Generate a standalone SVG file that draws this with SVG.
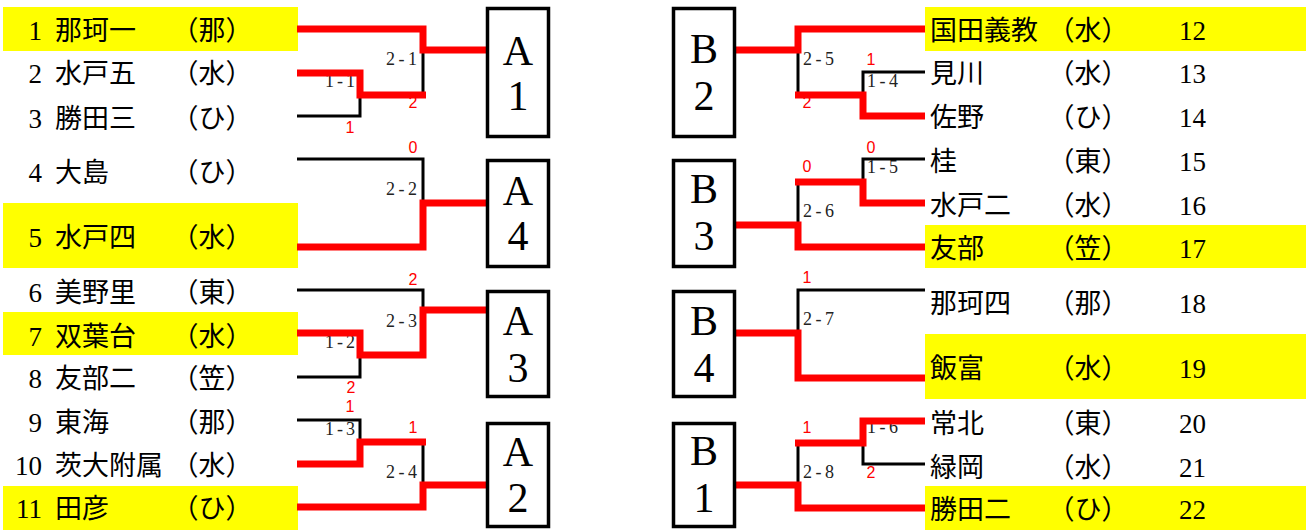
<svg xmlns="http://www.w3.org/2000/svg" width="1306" height="530" viewBox="0 0 1306 530">
<style>
.bg{fill:#ffffff}
.y{fill:#ffff00}
.t{font-family:"Liberation Serif","Noto Sans CJK JP",serif;font-size:27px;fill:#000}
.p{font-family:"Noto Sans CJK JP",sans-serif;font-size:27px;fill:#000;text-anchor:middle}
.n{text-anchor:end}
.bx{fill:#fff;stroke:#000;stroke-width:3.5}
.bl{font-family:"Liberation Serif",serif;font-size:42px;text-anchor:middle;fill:#000}
.k{fill:none;stroke:#000;stroke-width:3}
.r{fill:none;stroke:#ff0000;stroke-width:7;stroke-linejoin:miter}
.lb{font-family:"Liberation Serif",serif;font-size:18px;fill:#222}
.sc{font-family:"Liberation Sans",sans-serif;font-size:16px;fill:#ff0000;text-anchor:middle}
</style>
<rect class="bg" x="0" y="0" width="1306" height="530"/>

<g id="team-1"><rect class="y" x="3" y="7" width="295" height="44"/><text class="t n" x="42" y="40">1</text><text class="t" x="55" y="40">那珂一</text><text class="p" x="212" y="40">（那）</text></g>
<g id="team-2"><text class="t n" x="42" y="83">2</text><text class="t" x="55" y="83">水戸五</text><text class="p" x="212" y="83">（水）</text></g>
<g id="team-3"><text class="t n" x="42" y="128">3</text><text class="t" x="55" y="128">勝田三</text><text class="p" x="212" y="128">（ひ）</text></g>
<g id="team-4"><text class="t n" x="42" y="182">4</text><text class="t" x="55" y="182">大島</text><text class="p" x="212" y="182">（ひ）</text></g>
<g id="team-5"><rect class="y" x="3" y="203" width="295" height="65"/><text class="t n" x="42" y="247">5</text><text class="t" x="55" y="247">水戸四</text><text class="p" x="212" y="247">（水）</text></g>
<g id="team-6"><text class="t n" x="42" y="302">6</text><text class="t" x="55" y="302">美野里</text><text class="p" x="212" y="302">（東）</text></g>
<g id="team-7"><rect class="y" x="3" y="312" width="295" height="43"/><text class="t n" x="42" y="346">7</text><text class="t" x="55" y="346">双葉台</text><text class="p" x="212" y="346">（水）</text></g>
<g id="team-8"><text class="t n" x="42" y="388">8</text><text class="t" x="55" y="388">友部二</text><text class="p" x="212" y="388">（笠）</text></g>
<g id="team-9"><text class="t n" x="42" y="432">9</text><text class="t" x="55" y="432">東海</text><text class="p" x="212" y="432">（那）</text></g>
<g id="team-10"><text class="t n" x="42" y="475">10</text><text class="t" x="55" y="475">茨大附属</text><text class="p" x="212" y="475">（水）</text></g>
<g id="team-11"><rect class="y" x="3" y="486" width="295" height="44"/><text class="t n" x="42" y="518">11</text><text class="t" x="55" y="518">田彦</text><text class="p" x="212" y="518">（ひ）</text></g>

<g id="team-12"><rect class="y" x="925" y="7" width="381" height="44"/><text class="t" x="930" y="40">国田義教</text><text class="p" x="1088" y="40">（水）</text><text class="t" x="1179" y="40">12</text></g>
<g id="team-13"><text class="t" x="930" y="83">見川</text><text class="p" x="1088" y="83">（水）</text><text class="t" x="1179" y="83">13</text></g>
<g id="team-14"><text class="t" x="930" y="127">佐野</text><text class="p" x="1088" y="127">（ひ）</text><text class="t" x="1179" y="127">14</text></g>
<g id="team-15"><text class="t" x="930" y="171">桂</text><text class="p" x="1088" y="171">（東）</text><text class="t" x="1179" y="171">15</text></g>
<g id="team-16"><text class="t" x="930" y="215">水戸二</text><text class="p" x="1088" y="215">（水）</text><text class="t" x="1179" y="215">16</text></g>
<g id="team-17"><rect class="y" x="925" y="225" width="381" height="43"/><text class="t" x="930" y="258">友部</text><text class="p" x="1088" y="258">（笠）</text><text class="t" x="1179" y="258">17</text></g>
<g id="team-18"><text class="t" x="930" y="313">那珂四</text><text class="p" x="1088" y="313">（那）</text><text class="t" x="1179" y="313">18</text></g>
<g id="team-19"><rect class="y" x="925" y="334" width="381" height="65"/><text class="t" x="930" y="378">飯富</text><text class="p" x="1088" y="378">（水）</text><text class="t" x="1179" y="378">19</text></g>
<g id="team-20"><text class="t" x="930" y="433">常北</text><text class="p" x="1088" y="433">（東）</text><text class="t" x="1179" y="433">20</text></g>
<g id="team-21"><text class="t" x="930" y="477">緑岡</text><text class="p" x="1088" y="477">（水）</text><text class="t" x="1179" y="477">21</text></g>
<g id="team-22"><rect class="y" x="925" y="486" width="381" height="44"/><text class="t" x="930" y="519">勝田二</text><text class="p" x="1088" y="519">（ひ）</text><text class="t" x="1179" y="519">22</text></g>

<g id="match-labels">
<text class="lb" x="325" y="87" textLength="30" lengthAdjust="spacing">1-1</text>
<text class="lb" x="386" y="65" textLength="31" lengthAdjust="spacing">2-1</text>
<text class="lb" x="386" y="195" textLength="31" lengthAdjust="spacing">2-2</text>
<text class="lb" x="325" y="348" textLength="30" lengthAdjust="spacing">1-2</text>
<text class="lb" x="386" y="327" textLength="31" lengthAdjust="spacing">2-3</text>
<text class="lb" x="325" y="435" textLength="30" lengthAdjust="spacing">1-3</text>
<text class="lb" x="386" y="478" textLength="31" lengthAdjust="spacing">2-4</text>
<text class="lb" x="803" y="65" textLength="31" lengthAdjust="spacing">2-5</text>
<text class="lb" x="867" y="87" textLength="31" lengthAdjust="spacing">1-4</text>
<text class="lb" x="867" y="173" textLength="31" lengthAdjust="spacing">1-5</text>
<text class="lb" x="803" y="217" textLength="31" lengthAdjust="spacing">2-6</text>
<text class="lb" x="803" y="325" textLength="31" lengthAdjust="spacing">2-7</text>
<text class="lb" x="867" y="433" textLength="31" lengthAdjust="spacing">1-6</text>
<text class="lb" x="803" y="478" textLength="31" lengthAdjust="spacing">2-8</text>
</g>

<g id="scores">
<text class="sc" x="350" y="133">1</text>
<text class="sc" x="413" y="108">2</text>
<text class="sc" x="413" y="153">0</text>
<text class="sc" x="413" y="285">2</text>
<text class="sc" x="351" y="393">2</text>
<text class="sc" x="350" y="412">1</text>
<text class="sc" x="413" y="433">1</text>
<text class="sc" x="871" y="65">1</text>
<text class="sc" x="807" y="108">2</text>
<text class="sc" x="871" y="153">0</text>
<text class="sc" x="807" y="172">0</text>
<text class="sc" x="807" y="283">1</text>
<text class="sc" x="807" y="433">1</text>
<text class="sc" x="871" y="478">2</text>
</g>

<g id="connectors">
<path class="k" d="M297,116 H360 V95"/>
<path class="k" d="M423,50 V95"/>
<path class="k" d="M297,159 H423 V203"/>
<path class="k" d="M297,377 H360 V355"/>
<path class="k" d="M297,290 H423 V310"/>
<path class="k" d="M297,420 H360 V442"/>
<path class="k" d="M423,442 V485"/>
<path class="k" d="M925,72 H863 V95"/>
<path class="k" d="M798,50 V95"/>
<path class="k" d="M925,159 H863 V182"/>
<path class="k" d="M798,182 V225"/>
<path class="k" d="M925,290 H798 V333"/>
<path class="k" d="M925,464 H863 V443"/>
<path class="k" d="M798,443 V485"/>

<path class="r" d="M297,73 H360 V95 H426"/>
<path class="r" d="M297,29 H423 V50 H487"/>
<path class="r" d="M297,247 H423 V203 H487"/>
<path class="r" d="M297,333 H360 V355 H423 V310 H487"/>
<path class="r" d="M297,464 H360 V442 H426"/>
<path class="r" d="M297,507 H423 V485 H487"/>
<path class="r" d="M925,116 H863 V95 H795"/>
<path class="r" d="M925,29 H798 V50 H735"/>
<path class="r" d="M925,203 H863 V182 H795"/>
<path class="r" d="M925,247 H798 V225 H735"/>
<path class="r" d="M925,378 H798 V333 H735"/>
<path class="r" d="M925,421 H863 V443 H795"/>
<path class="r" d="M925,508 H798 V485 H735"/>
</g>

<g id="box-A1"><rect class="bx" x="487.5" y="8.5" width="61" height="128"/><text class="bl" x="518" y="65">A</text><text class="bl" x="518" y="110">1</text></g>
<g id="box-A4"><rect class="bx" x="487.5" y="160.5" width="61" height="106"/><text class="bl" x="518" y="205">A</text><text class="bl" x="518" y="250">4</text></g>
<g id="box-A3"><rect class="bx" x="487.5" y="291.5" width="61" height="105"/><text class="bl" x="518" y="335">A</text><text class="bl" x="518" y="382">3</text></g>
<g id="box-A2"><rect class="bx" x="487.5" y="423.5" width="61" height="103"/><text class="bl" x="518" y="466">A</text><text class="bl" x="518" y="512">2</text></g>
<g id="box-B2"><rect class="bx" x="673.5" y="8.5" width="61" height="128"/><text class="bl" x="704" y="63">B</text><text class="bl" x="704" y="110">2</text></g>
<g id="box-B3"><rect class="bx" x="673.5" y="160.5" width="61" height="106"/><text class="bl" x="704" y="203">B</text><text class="bl" x="704" y="250">3</text></g>
<g id="box-B4"><rect class="bx" x="673.5" y="291.5" width="61" height="105"/><text class="bl" x="704" y="335">B</text><text class="bl" x="704" y="382">4</text></g>
<g id="box-B1"><rect class="bx" x="673.5" y="423.5" width="61" height="103"/><text class="bl" x="704" y="465">B</text><text class="bl" x="704" y="512">1</text></g>
</svg>
